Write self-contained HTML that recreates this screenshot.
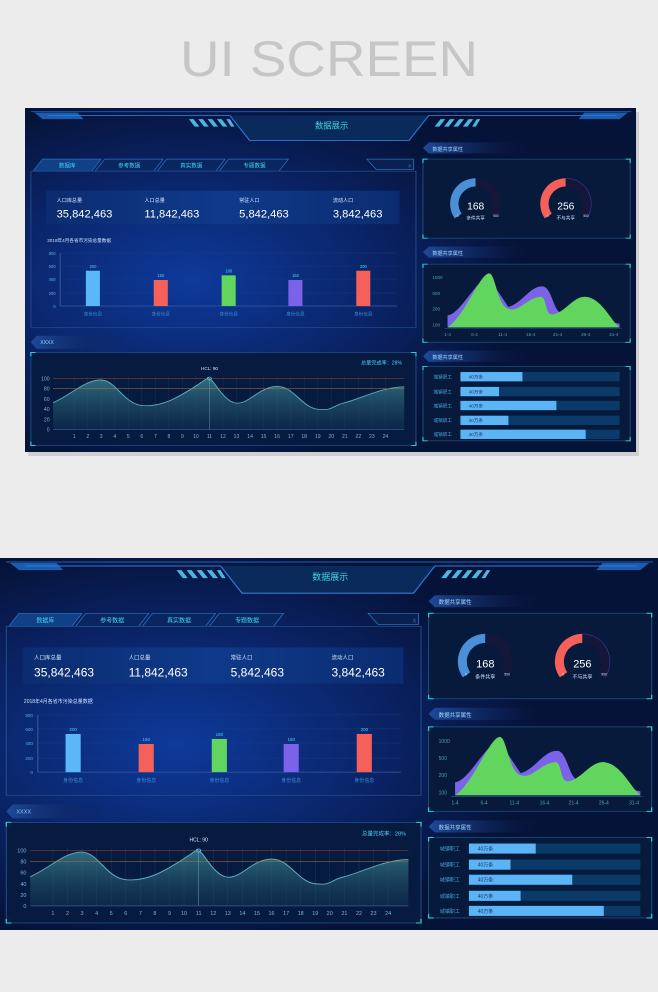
<!DOCTYPE html>
<html><head><meta charset="utf-8"><style>
html,body{margin:0;padding:0;background:#ececec;}
svg{display:block;}
text{font-family:"Liberation Sans","Noto Sans CJK SC",sans-serif;}
.d text{transform-box:fill-box;transform-origin:0 50%;transform:scaleX(0.794);}
.d [text-anchor=middle] text,.d text[text-anchor=middle]{transform-origin:50% 50%;}
.d [text-anchor=end] text,.d text[text-anchor=end]{transform-origin:100% 50%;}
</style></head><body>
<svg width="658" height="992" viewBox="0 0 658 992" xmlns="http://www.w3.org/2000/svg">
<defs>
<radialGradient id="glow" cx="0.27" cy="0.5" r="0.55">
<stop offset="0" stop-color="#0d3a9c"/><stop offset="0.6" stop-color="#0a2263"/><stop offset="1" stop-color="#061338"/>
</radialGradient>
<linearGradient id="tag" x1="0" x2="1"><stop offset="0" stop-color="#1f4a9a"/><stop offset="1" stop-color="#0a1a4a" stop-opacity="0"/></linearGradient>
<linearGradient id="area" x1="0" y1="0" x2="0" y2="1"><stop offset="0" stop-color="#3f8c96" stop-opacity="0.75"/><stop offset="1" stop-color="#163a55" stop-opacity="0.4"/></linearGradient>
<linearGradient id="stat" x1="0" x2="1"><stop offset="0" stop-color="#0b2c70"/><stop offset="0.5" stop-color="#0f3a8a"/><stop offset="1" stop-color="#0b2c70"/></linearGradient>
</defs>
<rect width="658" height="992" fill="#ececec"/>
<text x="329" y="76" text-anchor="middle" font-size="50" fill="#c6c6c6" textLength="298" lengthAdjust="spacingAndGlyphs">UI SCREEN</text>
<rect x="28" y="112" width="611" height="344" fill="#9a9a9a" opacity="0.35"/>

<!-- DASHBOARD 1 -->
<svg class="d" x="25" y="108" width="611" height="344" viewBox="0 0 522 370" preserveAspectRatio="none">
<rect width="522" height="370" fill="url(#glow)"/>
<path d="M5,4 L518,4" stroke="#1f5fb8" stroke-width="1"/>
<path d="M8,5 L45,5 L50,12 L15,12 Z M515,5 L478,5 L473,12 L508,12 Z" fill="#1c5cb0"/>
<path d="M175,8 L192,35 L328,35 L345,8 Z" fill="#0b2a5c"/>
<path d="M20,8 L175,8 L192,35 L328,35 L345,8 L505,8" fill="none" stroke="#2c7ad8" stroke-width="1"/>
<g fill="#4fb5e0"><path d="M140,12h4l5,8h-4z M148,12h4l5,8h-4z M156,12h4l5,8h-4z M164,12h4l5,8h-4z M172,12h3l4,8h-3z"/><path d="M350,20h4l5,-8h-4z M358,20h4l5,-8h-4z M366,20h4l5,-8h-4z M374,20h4l5,-8h-4z M382,20h3l4,-8h-3z"/></g>
<text x="262" y="22" text-anchor="middle" font-size="9" fill="#3fd8e0">数据展示</text>
<path d="M7,68 L15,55 L65,55 L57,68 Z" fill="#0f4088" stroke="#2c6fb8" stroke-width="0.7"/>
<path d="M60,68 L68,55 L118,55 L110,68 Z M113,68 L121,55 L171,55 L163,68 Z M166,68 L174,55 L225,55 L217,68 Z" fill="#0a2660" stroke="#2c6fb8" stroke-width="0.7"/>
<path d="M292,55 L332,55 L332,66 L300,66 Z" fill="#0a2050" stroke="#2c6fb8" stroke-width="0.7"/>
<text x="330" y="64" font-size="5" fill="#3f7fc0" text-anchor="end">X</text>
<g font-size="6" fill="#45d4f0" text-anchor="middle"><text x="36" y="64">数据库</text><text x="89" y="64">参考数据</text><text x="142" y="64">真实数据</text><text x="196" y="64">专题数据</text></g>
<rect x="5" y="68" width="329" height="168" fill="none" stroke="#1f4f8a" stroke-width="0.8"/>
<rect x="18" y="89" width="302" height="36" fill="url(#stat)"/>
<g fill="#cfe3ff" font-size="5.5"><text x="27" y="101">人口库总量</text><text x="102" y="101">人口总量</text><text x="183" y="101">常驻人口</text><text x="263" y="101">流动人口</text></g>
<g fill="#ffffff" font-size="12"><text x="27" y="118">35,842,463</text><text x="102" y="118">11,842,463</text><text x="183" y="118">5,842,463</text><text x="263" y="118">3,842,463</text></g>
<text x="19" y="144" font-size="5" fill="#cfe3ff">2018年4月各省市污染总量数据</text>
<g stroke="#1e3a7a" stroke-width="0.5"><path d="M30,156H318M30,170H318M30,184H318M30,199H318"/></g>
<path d="M30,156V213H318" stroke="#3a5aa0" stroke-width="0.8" fill="none"/>
<g font-size="4.5" fill="#5fb0d8" text-anchor="end"><text x="26" y="158">800</text><text x="26" y="172">600</text><text x="26" y="186">400</text><text x="26" y="201">200</text><text x="26" y="215">0</text></g>
<rect x="52" y="175" width="12" height="38" fill="#5ab8f8"/><rect x="110" y="185" width="12" height="28" fill="#f5615a"/><rect x="168" y="180" width="12" height="33" fill="#62d55f"/><rect x="225" y="185" width="12" height="28" fill="#7b62e8"/><rect x="283" y="175" width="12" height="38" fill="#f5615a"/>
<g font-size="4.5" fill="#45d4f0" text-anchor="middle"><text x="58" y="172">200</text><text x="116" y="182">150</text><text x="174" y="177">180</text><text x="231" y="182">150</text><text x="289" y="172">200</text></g>
<g font-size="5" fill="#3a8fd0" text-anchor="middle"><text x="58" y="223">身份信息</text><text x="116" y="223">身份信息</text><text x="174" y="223">身份信息</text><text x="231" y="223">身份信息</text><text x="289" y="223">身份信息</text></g>
<path d="M5,252 L10,245 L85,245 L85,259 L10,259 Z" fill="url(#tag)"/>
<text x="13" y="254" font-size="5.5" fill="#8fd0ff">XXXX</text>
<rect x="5" y="263" width="329" height="100" fill="#071a40" stroke="#1f4f8a" stroke-width="0.8"/>
<text x="322" y="276" font-size="5.5" fill="#45d4f0" text-anchor="end">总量完成率：28%</text>
<text x="157.6" y="282" font-size="5" fill="#dfe8ff" text-anchor="middle">HCL: 90</text>
<g stroke="#1c3560" stroke-width="0.4"><path d="M42,288V346M53.6,288V346M65.1,288V346M76.7,288V346M88.2,288V346M99.8,288V346M111.4,288V346M122.9,288V346M134.5,288V346M146,288V346M169.2,288V346M180.7,288V346M192.3,288V346M203.8,288V346M215.4,288V346M227,288V346M238.5,288V346M250.1,288V346M261.6,288V346M273.2,288V346M284.8,288V346M296.3,288V346M307.9,288V346"/></g>
<path d="M24,317 C40,308 52,292 65,292.5 S84,318 100,320 S130,312 146,299 S154,290 157.6,291 S170,317 181,317.5 S200,300 215,299.5 S236,322 250,324 S262,320 273,317 S305,300 324,299.8 L324,346 L24,346 Z" fill="url(#area)"/>
<path d="M24,317 C40,308 52,292 65,292.5 S84,318 100,320 S130,312 146,299 S154,290 157.6,291 S170,317 181,317.5 S200,300 215,299.5 S236,322 250,324 S262,320 273,317 S305,300 324,299.8" fill="none" stroke="#5ab0c0" stroke-width="0.9"/>
<path d="M24,291H324" stroke="#8a3a2a" stroke-width="0.6"/><path d="M24,302H324" stroke="#b07a20" stroke-width="0.6"/>
<path d="M157.6,291V346" stroke="#6aa0c0" stroke-width="0.4"/><circle cx="157.6" cy="291" r="1.6" fill="none" stroke="#45d4f0" stroke-width="0.7"/>
<path d="M24,346H324" stroke="#3a5aa0" stroke-width="0.8"/>
<g font-size="5.5" fill="#7fb0e0" text-anchor="end"><text x="21" y="293">100</text><text x="21" y="304">80</text><text x="21" y="315">60</text><text x="21" y="326">40</text><text x="21" y="337">20</text><text x="21" y="348">0</text></g>
<g font-size="5.5" fill="#7fb0e0" text-anchor="middle"><text x="42" y="355">1</text><text x="53.6" y="355">2</text><text x="65.1" y="355">3</text><text x="76.7" y="355">4</text><text x="88.2" y="355">5</text><text x="99.8" y="355">6</text><text x="111.4" y="355">7</text><text x="122.9" y="355">8</text><text x="134.5" y="355">9</text><text x="146" y="355">10</text><text x="157.6" y="355">11</text><text x="169.2" y="355">12</text><text x="180.7" y="355">13</text><text x="192.3" y="355">14</text><text x="203.8" y="355">15</text><text x="215.4" y="355">16</text><text x="227" y="355">17</text><text x="238.5" y="355">18</text><text x="250.1" y="355">19</text><text x="261.6" y="355">20</text><text x="273.2" y="355">21</text><text x="284.8" y="355">22</text><text x="296.3" y="355">23</text><text x="307.9" y="355">24</text></g>
<g>
<path d="M340,43 L345,37 L430,37 L430,49 L345,49 Z" fill="url(#tag)"/><text x="348" y="46" font-size="5.5" fill="#9fd8ff">数据共享属性</text>
<path d="M340,155 L345,149 L430,149 L430,161 L345,161 Z" fill="url(#tag)"/><text x="348" y="158" font-size="5.5" fill="#9fd8ff">数据共享属性</text>
<path d="M340,267 L345,261 L430,261 L430,273 L345,273 Z" fill="url(#tag)"/><text x="348" y="270" font-size="5.5" fill="#9fd8ff">数据共享属性</text>
</g>
<g fill="#081a3c" stroke="#1d4f7a" stroke-width="0.8"><rect x="340" y="55" width="177" height="85"/><rect x="340" y="168" width="177" height="84"/><rect x="340" y="278" width="177" height="80"/></g>
<g stroke="#2ad0d8" stroke-width="1" fill="none"><path d="M340,59V55H344M513,55H517V59M340,136V140H344M513,140H517V136M340,172V168H344M513,168H517V172M340,248V252H344M513,252H517V248M340,282V278H344M513,278H517V282M340,354V358H344M513,358H517V354M5,267V263H9M330,263H334V267M5,359V363H9M330,363H334V359"/></g>
<g transform="translate(385,0) scale(0.794,1) translate(-385,0)">
<path d="M366.2,116.2 A23,23 0 0 1 385,80" fill="none" stroke="#4a90d8" stroke-width="9"/>
<path d="M385,80 A23,23 0 0 1 403.8,116.2" fill="none" stroke="#14163a" stroke-width="9"/></g>
<g transform="translate(462,0) scale(0.794,1) translate(-462,0)">
<path d="M443.2,116.2 A23,23 0 0 1 462,80" fill="none" stroke="#f5615a" stroke-width="9"/>
<path d="M462,80 A23,23 0 0 1 480.8,116.2" fill="none" stroke="#14163a" stroke-width="9"/>
<path d="M462,75.5 A27.5,27.5 0 0 1 484.5,118.8" fill="none" stroke="#3a3aa0" stroke-width="0.6"/></g>
<g fill="#fff" text-anchor="middle"><text x="385" y="109" font-size="11">168</text><text x="462" y="109" font-size="11">256</text></g>
<g fill="#cfe3ff" text-anchor="middle" font-size="5"><text x="385" y="120">条件共享</text><text x="462" y="120">不与共享</text></g>
<g fill="#cfe3ff" font-size="3.5"><text x="369" y="117">0</text><text x="400" y="117">500</text><text x="446" y="117">0</text><text x="477" y="117">500</text></g>
<g font-size="5" fill="#4fa0a8"><text x="348" y="184">1000</text><text x="348" y="201">500</text><text x="348" y="218">200</text><text x="348" y="235">100</text></g>
<path d="M361,236 L361,223 C372,222 385,185 396,182 L413,214 C425,210 432,190 443,192 C450,194 452,220 458,220 L508,232 L508,236 Z" fill="#7b62e8"/>
<path d="M361,236 C375,225 388,180 396,178 C402,176 403,212 413,216 C422,220 428,205 440,203 C446,202 444,222 450,222 C460,222 468,203 478,203 C492,203 500,228 508,236 Z" fill="#62d55f"/>
<path d="M358,237H510" stroke="#2a5a8a" stroke-width="0.6"/>
<g font-size="5" fill="#4fa0a8" text-anchor="middle"><text x="361" y="245">1-4</text><text x="384" y="245">6-4</text><text x="408" y="245">11-4</text><text x="432" y="245">16-4</text><text x="455" y="245">21-4</text><text x="479" y="245">26-4</text><text x="503" y="245">31-4</text></g>
<g fill="#0a3a6a"><rect x="372" y="284" width="136" height="10"/><rect x="372" y="300" width="136" height="10"/><rect x="372" y="315" width="136" height="10"/><rect x="372" y="331" width="136" height="10"/><rect x="372" y="346" width="136" height="10"/></g>
<g fill="#5ab4f5"><rect x="372" y="284" width="53" height="10"/><rect x="372" y="300" width="33" height="10"/><rect x="372" y="315" width="82" height="10"/><rect x="372" y="331" width="41" height="10"/><rect x="372" y="346" width="107" height="10"/></g>
<g font-size="5" fill="#3fa8d8"><text x="349" y="291">城镇职工</text><text x="349" y="307">城镇职工</text><text x="349" y="322">城镇职工</text><text x="349" y="338">城镇职工</text><text x="349" y="353">城镇职工</text></g>
<g font-size="5" fill="#1a3a6a"><text x="379" y="291">40万条</text><text x="379" y="307">40万条</text><text x="379" y="322">40万条</text><text x="379" y="338">40万条</text><text x="379" y="353">40万条</text></g>
</svg>

<!-- DASHBOARD 2 -->
<svg class="d" x="0" y="558" width="658" height="372" viewBox="0 0 522 370" preserveAspectRatio="none">
<rect width="522" height="370" fill="url(#glow)"/>
<path d="M5,4 L518,4" stroke="#1f5fb8" stroke-width="1"/>
<path d="M8,5 L45,5 L50,12 L15,12 Z M515,5 L478,5 L473,12 L508,12 Z" fill="#1c5cb0"/>
<path d="M175,8 L192,35 L328,35 L345,8 Z" fill="#0b2a5c"/>
<path d="M20,8 L175,8 L192,35 L328,35 L345,8 L505,8" fill="none" stroke="#2c7ad8" stroke-width="1"/>
<g fill="#4fb5e0"><path d="M140,12h4l5,8h-4z M148,12h4l5,8h-4z M156,12h4l5,8h-4z M164,12h4l5,8h-4z M172,12h3l4,8h-3z"/><path d="M350,20h4l5,-8h-4z M358,20h4l5,-8h-4z M366,20h4l5,-8h-4z M374,20h4l5,-8h-4z M382,20h3l4,-8h-3z"/></g>
<text x="262" y="22" text-anchor="middle" font-size="9" fill="#3fd8e0">数据展示</text>
<path d="M7,68 L15,55 L65,55 L57,68 Z" fill="#0f4088" stroke="#2c6fb8" stroke-width="0.7"/>
<path d="M60,68 L68,55 L118,55 L110,68 Z M113,68 L121,55 L171,55 L163,68 Z M166,68 L174,55 L225,55 L217,68 Z" fill="#0a2660" stroke="#2c6fb8" stroke-width="0.7"/>
<path d="M292,55 L332,55 L332,66 L300,66 Z" fill="#0a2050" stroke="#2c6fb8" stroke-width="0.7"/>
<text x="330" y="64" font-size="5" fill="#3f7fc0" text-anchor="end">X</text>
<g font-size="6" fill="#45d4f0" text-anchor="middle"><text x="36" y="64">数据库</text><text x="89" y="64">参考数据</text><text x="142" y="64">真实数据</text><text x="196" y="64">专题数据</text></g>
<rect x="5" y="68" width="329" height="168" fill="none" stroke="#1f4f8a" stroke-width="0.8"/>
<rect x="18" y="89" width="302" height="36" fill="url(#stat)"/>
<g fill="#cfe3ff" font-size="5.5"><text x="27" y="101">人口库总量</text><text x="102" y="101">人口总量</text><text x="183" y="101">常驻人口</text><text x="263" y="101">流动人口</text></g>
<g fill="#ffffff" font-size="12"><text x="27" y="118">35,842,463</text><text x="102" y="118">11,842,463</text><text x="183" y="118">5,842,463</text><text x="263" y="118">3,842,463</text></g>
<text x="19" y="144" font-size="5" fill="#cfe3ff">2018年4月各省市污染总量数据</text>
<g stroke="#1e3a7a" stroke-width="0.5"><path d="M30,156H318M30,170H318M30,184H318M30,199H318"/></g>
<path d="M30,156V213H318" stroke="#3a5aa0" stroke-width="0.8" fill="none"/>
<g font-size="4.5" fill="#5fb0d8" text-anchor="end"><text x="26" y="158">800</text><text x="26" y="172">600</text><text x="26" y="186">400</text><text x="26" y="201">200</text><text x="26" y="215">0</text></g>
<rect x="52" y="175" width="12" height="38" fill="#5ab8f8"/><rect x="110" y="185" width="12" height="28" fill="#f5615a"/><rect x="168" y="180" width="12" height="33" fill="#62d55f"/><rect x="225" y="185" width="12" height="28" fill="#7b62e8"/><rect x="283" y="175" width="12" height="38" fill="#f5615a"/>
<g font-size="4.5" fill="#45d4f0" text-anchor="middle"><text x="58" y="172">200</text><text x="116" y="182">150</text><text x="174" y="177">180</text><text x="231" y="182">150</text><text x="289" y="172">200</text></g>
<g font-size="5" fill="#3a8fd0" text-anchor="middle"><text x="58" y="223">身份信息</text><text x="116" y="223">身份信息</text><text x="174" y="223">身份信息</text><text x="231" y="223">身份信息</text><text x="289" y="223">身份信息</text></g>
<path d="M5,252 L10,245 L85,245 L85,259 L10,259 Z" fill="url(#tag)"/>
<text x="13" y="254" font-size="5.5" fill="#8fd0ff">XXXX</text>
<rect x="5" y="263" width="329" height="100" fill="#071a40" stroke="#1f4f8a" stroke-width="0.8"/>
<text x="322" y="276" font-size="5.5" fill="#45d4f0" text-anchor="end">总量完成率：28%</text>
<text x="157.6" y="282" font-size="5" fill="#dfe8ff" text-anchor="middle">HCL: 90</text>
<g stroke="#1c3560" stroke-width="0.4"><path d="M42,288V346M53.6,288V346M65.1,288V346M76.7,288V346M88.2,288V346M99.8,288V346M111.4,288V346M122.9,288V346M134.5,288V346M146,288V346M169.2,288V346M180.7,288V346M192.3,288V346M203.8,288V346M215.4,288V346M227,288V346M238.5,288V346M250.1,288V346M261.6,288V346M273.2,288V346M284.8,288V346M296.3,288V346M307.9,288V346"/></g>
<path d="M24,317 C40,308 52,292 65,292.5 S84,318 100,320 S130,312 146,299 S154,290 157.6,291 S170,317 181,317.5 S200,300 215,299.5 S236,322 250,324 S262,320 273,317 S305,300 324,299.8 L324,346 L24,346 Z" fill="url(#area)"/>
<path d="M24,317 C40,308 52,292 65,292.5 S84,318 100,320 S130,312 146,299 S154,290 157.6,291 S170,317 181,317.5 S200,300 215,299.5 S236,322 250,324 S262,320 273,317 S305,300 324,299.8" fill="none" stroke="#5ab0c0" stroke-width="0.9"/>
<path d="M24,291H324" stroke="#8a3a2a" stroke-width="0.6"/><path d="M24,302H324" stroke="#b07a20" stroke-width="0.6"/>
<path d="M157.6,291V346" stroke="#6aa0c0" stroke-width="0.4"/><circle cx="157.6" cy="291" r="1.6" fill="none" stroke="#45d4f0" stroke-width="0.7"/>
<path d="M24,346H324" stroke="#3a5aa0" stroke-width="0.8"/>
<g font-size="5.5" fill="#7fb0e0" text-anchor="end"><text x="21" y="293">100</text><text x="21" y="304">80</text><text x="21" y="315">60</text><text x="21" y="326">40</text><text x="21" y="337">20</text><text x="21" y="348">0</text></g>
<g font-size="5.5" fill="#7fb0e0" text-anchor="middle"><text x="42" y="355">1</text><text x="53.6" y="355">2</text><text x="65.1" y="355">3</text><text x="76.7" y="355">4</text><text x="88.2" y="355">5</text><text x="99.8" y="355">6</text><text x="111.4" y="355">7</text><text x="122.9" y="355">8</text><text x="134.5" y="355">9</text><text x="146" y="355">10</text><text x="157.6" y="355">11</text><text x="169.2" y="355">12</text><text x="180.7" y="355">13</text><text x="192.3" y="355">14</text><text x="203.8" y="355">15</text><text x="215.4" y="355">16</text><text x="227" y="355">17</text><text x="238.5" y="355">18</text><text x="250.1" y="355">19</text><text x="261.6" y="355">20</text><text x="273.2" y="355">21</text><text x="284.8" y="355">22</text><text x="296.3" y="355">23</text><text x="307.9" y="355">24</text></g>
<g>
<path d="M340,43 L345,37 L430,37 L430,49 L345,49 Z" fill="url(#tag)"/><text x="348" y="46" font-size="5.5" fill="#9fd8ff">数据共享属性</text>
<path d="M340,155 L345,149 L430,149 L430,161 L345,161 Z" fill="url(#tag)"/><text x="348" y="158" font-size="5.5" fill="#9fd8ff">数据共享属性</text>
<path d="M340,267 L345,261 L430,261 L430,273 L345,273 Z" fill="url(#tag)"/><text x="348" y="270" font-size="5.5" fill="#9fd8ff">数据共享属性</text>
</g>
<g fill="#081a3c" stroke="#1d4f7a" stroke-width="0.8"><rect x="340" y="55" width="177" height="85"/><rect x="340" y="168" width="177" height="84"/><rect x="340" y="278" width="177" height="80"/></g>
<g stroke="#2ad0d8" stroke-width="1" fill="none"><path d="M340,59V55H344M513,55H517V59M340,136V140H344M513,140H517V136M340,172V168H344M513,168H517V172M340,248V252H344M513,252H517V248M340,282V278H344M513,278H517V282M340,354V358H344M513,358H517V354M5,267V263H9M330,263H334V267M5,359V363H9M330,363H334V359"/></g>
<g transform="translate(385,0) scale(0.794,1) translate(-385,0)">
<path d="M366.2,116.2 A23,23 0 0 1 385,80" fill="none" stroke="#4a90d8" stroke-width="9"/>
<path d="M385,80 A23,23 0 0 1 403.8,116.2" fill="none" stroke="#14163a" stroke-width="9"/></g>
<g transform="translate(462,0) scale(0.794,1) translate(-462,0)">
<path d="M443.2,116.2 A23,23 0 0 1 462,80" fill="none" stroke="#f5615a" stroke-width="9"/>
<path d="M462,80 A23,23 0 0 1 480.8,116.2" fill="none" stroke="#14163a" stroke-width="9"/>
<path d="M462,75.5 A27.5,27.5 0 0 1 484.5,118.8" fill="none" stroke="#3a3aa0" stroke-width="0.6"/></g>
<g fill="#fff" text-anchor="middle"><text x="385" y="109" font-size="11">168</text><text x="462" y="109" font-size="11">256</text></g>
<g fill="#cfe3ff" text-anchor="middle" font-size="5"><text x="385" y="120">条件共享</text><text x="462" y="120">不与共享</text></g>
<g fill="#cfe3ff" font-size="3.5"><text x="369" y="117">0</text><text x="400" y="117">500</text><text x="446" y="117">0</text><text x="477" y="117">500</text></g>
<g font-size="5" fill="#4fa0a8"><text x="348" y="184">1000</text><text x="348" y="201">500</text><text x="348" y="218">200</text><text x="348" y="235">100</text></g>
<path d="M361,236 L361,223 C372,222 385,185 396,182 L413,214 C425,210 432,190 443,192 C450,194 452,220 458,220 L508,232 L508,236 Z" fill="#7b62e8"/>
<path d="M361,236 C375,225 388,180 396,178 C402,176 403,212 413,216 C422,220 428,205 440,203 C446,202 444,222 450,222 C460,222 468,203 478,203 C492,203 500,228 508,236 Z" fill="#62d55f"/>
<path d="M358,237H510" stroke="#2a5a8a" stroke-width="0.6"/>
<g font-size="5" fill="#4fa0a8" text-anchor="middle"><text x="361" y="245">1-4</text><text x="384" y="245">6-4</text><text x="408" y="245">11-4</text><text x="432" y="245">16-4</text><text x="455" y="245">21-4</text><text x="479" y="245">26-4</text><text x="503" y="245">31-4</text></g>
<g fill="#0a3a6a"><rect x="372" y="284" width="136" height="10"/><rect x="372" y="300" width="136" height="10"/><rect x="372" y="315" width="136" height="10"/><rect x="372" y="331" width="136" height="10"/><rect x="372" y="346" width="136" height="10"/></g>
<g fill="#5ab4f5"><rect x="372" y="284" width="53" height="10"/><rect x="372" y="300" width="33" height="10"/><rect x="372" y="315" width="82" height="10"/><rect x="372" y="331" width="41" height="10"/><rect x="372" y="346" width="107" height="10"/></g>
<g font-size="5" fill="#3fa8d8"><text x="349" y="291">城镇职工</text><text x="349" y="307">城镇职工</text><text x="349" y="322">城镇职工</text><text x="349" y="338">城镇职工</text><text x="349" y="353">城镇职工</text></g>
<g font-size="5" fill="#1a3a6a"><text x="379" y="291">40万条</text><text x="379" y="307">40万条</text><text x="379" y="322">40万条</text><text x="379" y="338">40万条</text><text x="379" y="353">40万条</text></g>
</svg>
</svg>
</body></html>
